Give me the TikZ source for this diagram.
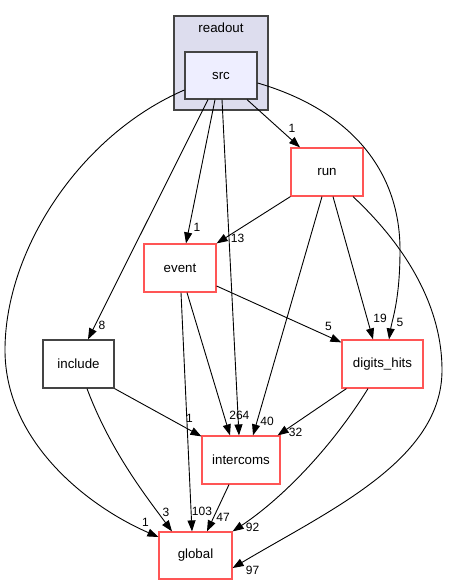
\documentclass[tikz,border=0pt]{standalone}
\usepackage{fontspec}
\setmainfont{Liberation Sans}
\usetikzlibrary{arrows.meta}

\definecolor{dirred}{HTML}{FF5555}
\definecolor{boxgray}{HTML}{444444}
\definecolor{clusterfill}{HTML}{DDDDEE}
\definecolor{srcfill}{HTML}{EEEEFF}

\begin{document}
\begin{tikzpicture}[x=1pt, y=-1pt,
  dirbox/.style={rectangle, draw=dirred, line width=1.2pt, minimum width=#1, minimum height=48pt, inner sep=0pt, font=\fontsize{13.3}{16}\selectfont},
  dirbox/.default=72pt,
  dep/.style={draw=black, line width=0.9pt, -{Triangle[length=11pt,width=8pt]}},
  elbl/.style={inner sep=0pt, font=\fontsize{12}{14}\selectfont}]
			\useasboundingbox (0,0) rectangle (448,585);
			% Nodes
			\node[rectangle, draw=boxgray, fill=clusterfill, line width=1.2pt, minimum width=94pt, minimum height=94pt] (readout) at (221,63) {};
			\node[font=\fontsize{13.3}{16}\selectfont] (readoutlbl) at (221,28) {readout};
			\node[dirbox, draw=boxgray, fill=srcfill, minimum height=47pt] (src) at (221,75.5) {src};
			\node[dirbox] (run) at (327,172) {run};
			\node[dirbox] (event) at (180,268) {event};
			\node[dirbox=71pt, draw=boxgray] (include) at (78.5,364) {include};
			\node[dirbox=81pt] (digits) at (382.5,364) {digits\_hits};
			\node[dirbox=78pt] (intercoms) at (241,460) {intercoms};
			\node[dirbox=73pt, minimum height=47pt] (global) at (195.5,555.5) {global};
			
			% Edges
			\draw[dep] ([yshift=-14.5pt]src.west) .. controls (80,135) and (5,250) .. (5,350) .. controls (5,440) and (85,505) .. ([yshift=18.5pt]global.west) node[elbl, pos=1, xshift=-13pt, yshift=15pt] {1};
			\draw[dep] ([xshift=-13pt]src.south) -- ([xshift=9.5pt]include.north) node[elbl, pos=1, xshift=14pt, yshift=14pt] {8};
			\draw[dep] ([xshift=-6pt]src.south) -- ([xshift=6pt]event.north) node[elbl, pos=1, xshift=11pt, yshift=16pt] {1};
			\draw[dep] ([xshift=1pt]src.south) -- ([xshift=-2pt]intercoms.north) node[elbl, pos=1, xshift=7pt, yshift=20pt] {4};
			\draw[dep] ([xshift=26pt]src.south) -- ([xshift=-27pt]run.north) node[elbl, pos=1, xshift=-8pt, yshift=19pt] {1};
			\draw[dep] ([yshift=-7.5pt]src.east) .. controls (350,110) and (400,170) .. (400,250) .. controls (400,300) and (392,320) .. ([xshift=6.5pt]digits.north) node[elbl, pos=1, xshift=11pt, yshift=17pt] {5};
			\draw[dep] (run.south west) -- (event.north east) node[elbl, pos=1, xshift=21pt, yshift=5pt] {13};
			\draw[dep] ([xshift=-5pt]run.south) -- ([xshift=12pt]intercoms.north) node[elbl, pos=1, xshift=14pt, yshift=14pt] {40};
			\draw[dep] ([xshift=6pt]run.south) -- ([xshift=-9.5pt]digits.north) node[elbl, pos=1, xshift=7pt, yshift=21pt] {19};
			\draw[dep] ([xshift=26pt]run.south) .. controls (410,250) and (442,310) .. (442,370) .. controls (442,460) and (330,510) .. ([yshift=-12.5pt]global.east) node[elbl, pos=1, xshift=20pt, yshift=-2pt] {97};
			\draw[dep] ([yshift=-18pt]event.east) -- ([yshift=-3pt]digits.north west) node[elbl, pos=1, xshift=-13pt, yshift=16pt] {5};
			\draw[dep] ([xshift=1pt]event.south) -- ([xshift=-3.5pt]global.north) node[elbl, pos=1, xshift=10pt, yshift=20pt] {103};
			\draw[dep] ([xshift=7pt]event.south) -- ([xshift=-11pt]intercoms.north) node[elbl, pos=1, xshift=6pt, yshift=20pt] {26};
			\draw[dep] (include.south east) -- ([yshift=-1pt]intercoms.north west) node[elbl, pos=1, xshift=-12pt, yshift=18pt] {1};
			\draw[dep] ([xshift=8.5pt]include.south) .. controls (110,450) and (145,495) .. ([xshift=-23.5pt]global.north) node[elbl, pos=1, xshift=-6pt, yshift=19pt] {3};
			\draw[dep] ([xshift=5pt]digits.south west) -- ([xshift=-3pt]intercoms.north east) node[elbl, pos=1, xshift=18pt, yshift=3pt] {32};
			\draw[dep] ([xshift=-14.5pt]digits.south) .. controls (330,450) and (280,500) .. (global.north east) node[elbl, pos=1, xshift=20pt, yshift=4pt] {92};
			\draw[dep] ([xshift=-12pt]intercoms.south) -- ([xshift=11.5pt]global.north) node[elbl, pos=1, xshift=16pt, yshift=14pt] {47};
		\end{tikzpicture}
\end{document}
